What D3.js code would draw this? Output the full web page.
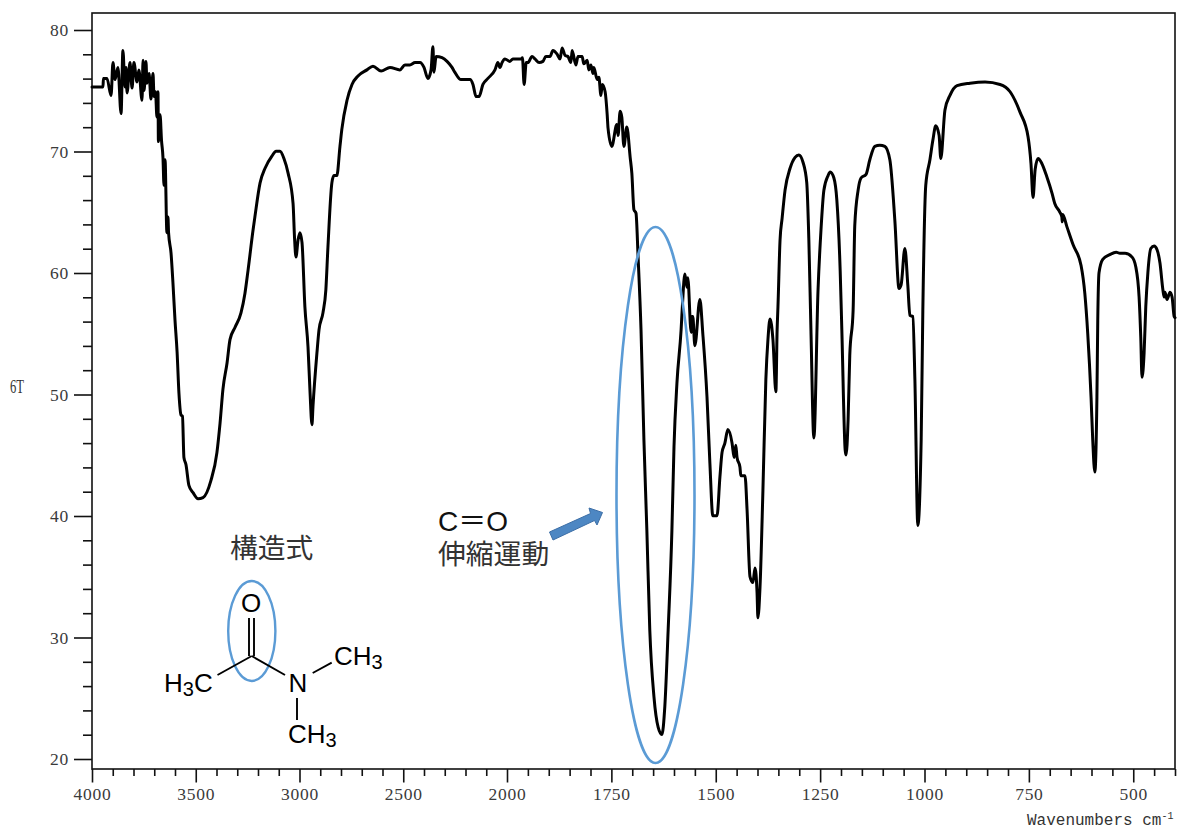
<!DOCTYPE html>
<html><head><meta charset="utf-8">
<script src="https://cdn.jsdelivr.net/npm/d3@7"></script>
<style>html,body{margin:0;padding:0;background:#fff}svg{display:block}</style>
</head><body><svg id="c" width="1177" height="830"></svg>
<script>
const wavenumbers = [4000,3947,3945,3928,3908,3899,3889,3875,3860,3851,3841,3836,3831,3817,3807,3798,3783,3774,3759,3754,3749,3740,3735,3725,3716,3706,3701,3694,3687,3682,3680,3672,3665,3658,3653,3648,3639,3634,3631,3619,3610,3600,3590,3581,3571,3564,3557,3547,3533,3513,3489,3465,3427,3398,3383,3369,3349,3335,3311,3282,3263,3248,3224,3215,3190,3166,3133,3113,3094,3075,3055,3031,3024,3017,3007,2998,2988,2974,2959,2949,2940,2935,2916,2906,2887,2873,2863,2844,2834,2820,2805,2796,2771,2747,2718,2675,2646,2607,2564,2516,2492,2468,2443,2419,2400,2381,2366,2357,2352,2342,2313,2289,2265,2251,2222,2178,2164,2149,2135,2116,2092,2058,2044,2034,2024,2010,1993,1986,1966,1963,1959,1954,1950,1940,1933,1923,1914,1907,1897,1890,1880,1873,1868,1861,1854,1847,1844,1835,1830,1820,1816,1808,1804,1799,1794,1792,1784,1780,1775,1772,1765,1760,1758,1749,1737,1734,1729,1725,1720,1713,1705,1701,1696,1691,1686,1679,1672,1665,1658,1648,1638,1629,1622,1614,1605,1600,1593,1583,1580,1574,1569,1567,1559,1557,1555,1550,1538,1531,1521,1514,1507,1497,1490,1485,1478,1471,1461,1456,1452,1449,1442,1440,1430,1425,1418,1411,1406,1401,1399,1394,1387,1380,1375,1370,1363,1356,1353,1351,1346,1341,1334,1322,1310,1301,1291,1282,1277,1272,1265,1255,1248,1241,1231,1226,1217,1210,1202,1198,1190,1188,1183,1179,1171,1167,1159,1152,1140,1131,1119,1107,1095,1083,1071,1061,1056,1047,1040,1035,1028,1023,1016,1008,1004,997,987,980,973,965,961,951,939,922,891,855,819,795,771,752,745,740,735,728,719,707,695,688,676,671,670,669,659,644,625,616,609,601,597,592,587,585,582,573,556,541,532,520,503,494,486,482,479,474,470,465,458,450,443,436,429,426,424,419,412,407,402,400];
const transmittance = [75.4,75.4,76.1,76.1,74.7,77.4,76.0,77.0,73.2,78.4,75.4,77.0,74.9,77.4,75.3,77.4,75.8,76.8,74.3,77.6,75.1,77.5,75.7,76.5,74.4,76.5,74.6,75.0,72.9,75.0,70.9,73.1,71.0,69.6,67.3,69.4,63.4,64.7,63.4,61.7,59.3,56.2,53.6,50.2,48.4,48.3,44.9,44.3,42.6,42.0,41.5,41.6,43.0,45.3,47.7,50.5,52.7,54.6,55.6,56.8,58.4,60.3,63.6,64.7,67.5,68.7,69.7,70.1,70.1,69.5,68.3,65.8,63.0,61.4,62.8,63.4,62.6,57.3,54.0,50.2,47.6,49.1,53.5,55.4,56.8,58.7,62.2,67.5,68.1,68.1,70.5,71.9,74.3,75.6,76.3,76.8,77.1,76.7,77.0,76.8,77.2,77.2,77.4,77.4,77.0,76.1,76.8,78.7,76.6,77.9,77.8,77.5,77.0,76.6,76.0,76.0,75.6,74.6,74.6,75.6,76.1,76.8,77.4,77.0,77.4,77.7,77.5,77.7,77.7,77.8,75.6,77.4,77.4,77.9,77.7,77.4,77.5,77.9,77.9,78.4,78.1,77.7,78.6,78.0,77.9,77.4,78.4,77.2,77.9,77.9,77.3,77.6,76.8,77.2,76.5,77.0,76.0,76.2,74.7,75.6,75.0,73.1,72.0,70.5,72.3,71.4,73.4,72.9,70.5,72.1,69.6,68.3,65.3,65.0,61.4,55.4,46.3,38.9,30.7,25.2,22.7,22.1,24.4,30.7,38.9,45.8,51.0,55.4,57.3,60.0,58.9,59.7,55.2,56.5,56.5,54.1,57.9,55.1,49.9,44.4,40.1,40.1,43.3,45.3,46.1,47.2,46.1,44.9,45.9,44.9,44.1,43.4,43.4,40.6,35.1,34.6,35.8,33.7,31.7,34.2,42.2,51.3,54.6,56.3,54.6,50.3,55.4,57.3,62.8,64.6,66.9,68.7,69.6,69.8,69.2,67.5,62.8,55.4,46.5,58.7,63.6,66.9,68.1,68.4,67.9,66.1,60.3,55.4,45.5,45.1,48.0,53.3,57.0,64.0,66.9,67.9,68.2,69.4,70.5,70.6,70.5,69.4,64.4,58.8,59.1,62.1,59.1,56.6,56.5,51.3,39.3,46.3,57.0,67.3,69.4,71.0,72.2,71.4,69.5,73.5,74.7,75.5,75.7,75.8,75.6,75.0,73.3,71.3,69.1,66.3,68.6,69.5,69.1,68.0,66.7,65.8,65.1,64.7,64.3,64.9,63.9,62.4,60.7,58.4,55.1,49.8,46.3,43.7,49.9,56.2,60.1,61.2,61.6,61.8,61.7,61.7,61.4,60.6,58.1,54.8,51.5,53.5,57.3,60.1,62.1,62.3,62.0,60.9,58.7,58.1,58.5,57.9,58.5,58.1,56.5,56.4];

const xTickLabels = [4000,3500,3000,2500,2000,1750,1500,1250,1000,750,500];
const xMinorTicks = [3900,3800,3700,3600,3400,3300,3200,3100,2900,2800,2700,2600,2400,2300,2200,2100,1950,1900,1850,1800,1700,1650,1600,1550,1450,1400,1350,1300,1200,1150,1100,1050,950,900,850,800,700,650,600,550,450,400];
const yTickLabels = [20,30,40,50,60,70,80];
const yMinorTicks = [22,24,26,28,32,34,36,38,42,44,46,48,52,54,56,58,62,64,66,68,72,74,76,78];

const svg = d3.select('#c');
const L=92,R=1175,T=13,B=769;
const x = d3.scaleLinear().domain([4000,2000,400]).range([L,507,R]);
const y = d3.scaleLinear().domain([20,80]).range([760,31]);
const tickFont = '"Liberation Serif",serif';

// frame
svg.append('rect').attr('x',L).attr('y',T).attr('width',R-L).attr('height',B-T)
   .attr('fill','none').attr('stroke','#111').attr('stroke-width',1.6);

// axes
const gx = svg.append('g').attr('transform',`translate(0,${B})`);
gx.call(d3.axisBottom(x).tickValues(xTickLabels).tickSize(13.5).tickPadding(5).tickFormat(d3.format('d')));
const gxm = svg.append('g').attr('transform',`translate(0,${B})`);
gxm.call(d3.axisBottom(x).tickValues(xMinorTicks).tickSize(7).tickFormat(''));
const gy = svg.append('g').attr('transform',`translate(${L},-1)`);
gy.call(d3.axisLeft(y).tickValues(yTickLabels).tickSize(18).tickPadding(5).tickFormat(d3.format('d')));
const gym = svg.append('g').attr('transform',`translate(${L},-1)`);
gym.call(d3.axisLeft(y).tickValues(yMinorTicks).tickSize(9).tickFormat(''));
[gx,gxm,gy,gym].forEach(g=>{
  g.select('.domain').remove();
  g.selectAll('line').attr('stroke','#111').attr('stroke-width',1.6);
  g.selectAll('text').attr('font-family',tickFont).attr('font-size',17.5).attr('letter-spacing',0.7).attr('fill','#3a3a3a');
});

// spectrum
const points = wavenumbers.map((w,i)=>[w,transmittance[i]]);
svg.append('path').datum(points)
  .attr('d',d3.line().curve(d3.curveMonotoneX).x(d=>x(d[0])).y(d=>y(d[1])))
  .attr('fill','none').attr('stroke','#000').attr('stroke-width',3)
  .attr('stroke-linejoin','round').attr('stroke-linecap','round');

// axis titles
svg.append('text').attr('x',10).attr('y',393).attr('font-family','"Liberation Serif",serif')
  .attr('font-size',19).attr('textLength',14).attr('lengthAdjust','spacingAndGlyphs').attr('fill','#333').text('6T');
const xt = svg.append('text').attr('x',1027).attr('y',825).attr('font-family','"Liberation Mono",monospace')
  .attr('font-size',16).attr('fill','#333').text('Wavenumbers cm');
xt.append('tspan').attr('dy',-6).attr('font-size',10).text('-1');

// annotations
const blue = '#5b9bd5';
svg.append('ellipse').attr('cx',655.5).attr('cy',495).attr('rx',39).attr('ry',268)
  .attr('fill','none').attr('stroke',blue).attr('stroke-width',2.6);
svg.append('ellipse').attr('cx',251.8).attr('cy',631).attr('rx',23.6).attr('ry',50)
  .attr('fill','none').attr('stroke',blue).attr('stroke-width',2.4);
svg.append('polygon')
  .attr('points','549.5,532 590.5,513.5 589,508 602.5,512.5 597,525 594.5,520.5 553,540')
  .attr('fill','#4d87c3').attr('stroke','#3c6ea6').attr('stroke-width',1);

const cjk = '"Noto Sans CJK JP",sans-serif';
const ann = (t,xx,yy)=>svg.append('text').attr('x',xx).attr('y',yy).attr('font-family',cjk)
  .attr('font-size',27.8).attr('font-weight',400).attr('fill','#333').text(t);
ann('構造式',230,558);
ann('伸縮運動',438,564);
svg.append('text').attr('x',438).attr('y',531).attr('font-family','"Liberation Sans",'+cjk)
  .attr('font-size',28).attr('fill','#111').text('C＝O');

// structural formula
const bonds = [[249,618,249,656],[254,618,254,656],[217.5,675,251.7,656],[251.7,656,285,675],[312.7,673,331.7,662.7],[297,698,297,720]];
svg.append('g').selectAll('line').data(bonds).join('line')
  .attr('x1',d=>d[0]).attr('y1',d=>d[1]).attr('x2',d=>d[2]).attr('y2',d=>d[3])
  .attr('stroke','#000').attr('stroke-width',1.9);
const chem = (parts,xx,yy)=>{
  const t = svg.append('text').attr('x',xx).attr('y',yy).attr('font-family','"Liberation Sans",Arial,sans-serif')
     .attr('font-size',26).attr('fill','#000');
  parts.forEach(p=>{
    if(p==='3'){ t.append('tspan').attr('font-size',20).attr('dy',4).text('3'); }
    else { const s=t.append('tspan').text(p); if(t.selectAll('tspan').size()>1) s.attr('dy',-4); }
  });
};
chem(['O'],241,612);
chem(['H','3','C'],164,692);
chem(['N'],288.5,692);
chem(['CH','3'],334,665);
chem(['CH','3'],288,743);
</script></body></html>
